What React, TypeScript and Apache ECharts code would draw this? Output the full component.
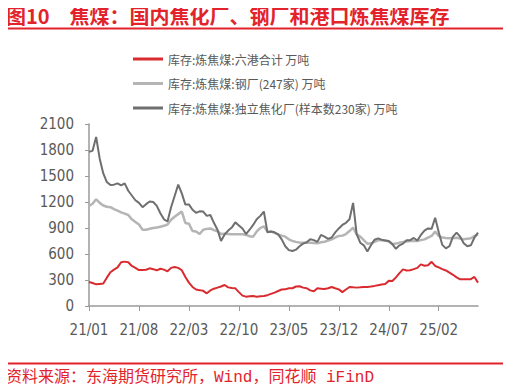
import React, { useEffect, useRef } from "react";
import * as echarts from "echarts";

// Half-month sampling points from 2021-01 to 2025-07 (110 points)
const startYear = 2021;
const pointCount = 110;
const dates: string[] = [];
for (let i = 0; i < pointCount; i++) {
  const mIdx = Math.floor(i / 2);
  const y = startYear + Math.floor(mIdx / 12);
  const m = (mIdx % 12) + 1;
  const d = i % 2 === 0 ? "01" : "16";
  dates.push(`${y}-${String(m).padStart(2, "0")}-${d}`);
}

const seriesNames = [
  "库存:炼焦煤:六港合计 万吨",
  "库存:炼焦煤:钢厂(247家) 万吨",
  "库存:炼焦煤:独立焦化厂(样本数230家) 万吨",
];

// 六港合计
const portStock = [
  277, 265, 250, 255, 260, 327, 390, 420, 445, 505,
  512, 505, 462, 440, 415, 415, 418, 435, 425, 412,
  430, 420, 400, 440, 450, 440, 412, 335, 270, 220,
  190, 183, 175, 146, 180, 200, 212, 225, 242, 215,
  208, 204, 160, 120, 108, 112, 115, 108, 112, 115,
  125, 140, 155, 173, 190, 192, 204, 205, 225, 228,
  212, 205, 180, 170, 204, 200, 196, 205, 219, 205,
  192, 160, 190, 219, 215, 212, 215, 219, 220, 225,
  232, 240, 248, 255, 290, 288, 330, 380, 423, 410,
  412, 425, 440, 480, 465, 470, 510, 462, 445, 425,
  410, 385, 360, 330, 308, 308, 308, 310, 335, 270,
];

// 钢厂(247家)
const steelStock = [
  1154, 1180, 1231, 1190, 1160, 1145, 1140, 1118, 1100, 1080,
  1065, 1050, 1000, 970, 940, 880, 880, 892, 900, 905,
  915, 925, 940, 995, 1030, 1060, 1090, 958, 950, 865,
  860, 830, 880, 890, 895, 875, 862, 830, 835, 832,
  828, 827, 827, 827, 820, 805, 800, 860, 900, 920,
  860, 858, 845, 825, 812, 800, 770, 750, 740, 731,
  731, 731, 731, 728, 723, 735, 742, 755, 769, 790,
  808, 812, 830, 865, 904, 827, 800, 760, 719, 723,
  740, 758, 758, 755, 745, 712, 720, 731, 740, 745,
  750, 750, 750, 760, 769, 790, 808, 858, 808, 790,
  785, 781, 785, 788, 780, 769, 775, 781, 808, 827,
];

// 独立焦化厂(样本数230家)
const cokingStock = [
  1780, 1790, 1950, 1700, 1530, 1430, 1395, 1400, 1415, 1392,
  1415, 1330, 1275, 1220, 1190, 1140, 1175, 1205, 1200, 1155,
  1070, 1000, 975, 1140, 1270, 1400, 1300, 1170, 1172, 1110,
  1075, 1092, 1090, 1040, 1050, 960, 880, 750, 825, 870,
  905, 965, 930, 895, 830, 880, 935, 1000, 1040, 1090,
  850, 860, 850, 827, 769, 690, 645, 635, 650, 690,
  720, 735, 770, 760, 740, 820, 800, 775, 790, 850,
  895, 935, 960, 1000, 1190, 830, 730, 700, 630, 700,
  765, 780, 765, 755, 750, 715, 660, 700, 720, 760,
  760, 785, 755, 820, 870, 895, 890, 1019, 850, 705,
  665, 690, 800, 846, 800, 725, 690, 700, 790, 846,
];

const colors = ["#d92b2f", "#b5b5b5", "#6f6f6f"];
const titleText = "图10\u3000焦煤：国内焦化厂、钢厂和港口炼焦煤库存";
const sourceText = "资料来源：东海期货研究所，Wind，同花顺 iFinD";

const labelStep = 14; // every 7 months

export default function App() {
  const ref = useRef<HTMLDivElement>(null);
  useEffect(() => {
    if (!ref.current) return;
    const chart = echarts.init(ref.current, null, { renderer: "svg" });
    const narrow = "'Liberation Sans Narrow', 'DejaVu Sans Condensed', 'Noto Sans', sans-serif";
    chart.setOption({
      animation: false,
      backgroundColor: "#ffffff",
      grid: { left: 89, right: 34, top: 124, bottom: 86 },
      legend: {
        orient: "vertical",
        left: 128,
        top: 48,
        icon: "rect",
        itemWidth: 30,
        itemHeight: 3,
        itemGap: 12.5,
        textStyle: { fontSize: 12, color: "#595959", fontFamily: "'Noto Sans CJK SC', sans-serif" },
        data: seriesNames,
      },
      xAxis: {
        type: "category",
        data: dates,
        boundaryGap: false,
        axisLine: { lineStyle: { color: "#9a9a9a", width: 1.5 } },
        axisTick: {
          show: true,
          length: 5,
          interval: (idx: number) => idx % labelStep === 0,
          lineStyle: { color: "#9a9a9a" },
        },
        axisLabel: {
          interval: (idx: number) => idx % labelStep === 0,
          margin: 16,
          fontSize: 15,
          color: "#595959",
          fontFamily: narrow,
          formatter: (v: string) => `${v.slice(2, 4)}/${v.slice(5, 7)}`,
        },
        splitLine: { show: false },
      },
      yAxis: {
        type: "value",
        min: 0,
        max: 2100,
        interval: 300,
        axisLine: { show: true, lineStyle: { color: "#9a9a9a", width: 1.5 } },
        axisTick: { show: true, length: 4, lineStyle: { color: "#9a9a9a" } },
        axisLabel: {
          margin: 15,
          fontSize: 15,
          color: "#595959",
          fontFamily: narrow,
          formatter: (v: number) => String(v),
        },
        splitLine: { show: false },
      },
      series: [
        { name: seriesNames[0], data: portStock },
        { name: seriesNames[1], data: steelStock },
        { name: seriesNames[2], data: cokingStock },
      ].map((s, i) => ({
        ...s,
        type: "line",
        symbol: "none",
        color: colors[i],
        lineStyle: { color: colors[i], width: i === 1 ? 2.5 : 2 },
      })),
      graphic: [
        {
          type: "text",
          left: 6,
          top: 5,
          style: {
            text: titleText,
            fill: "#e3232b",
            fontSize: 20,
            fontWeight: "bold",
            fontFamily: "'Noto Sans CJK SC', sans-serif",
          },
        },
        {
          type: "line",
          shape: { x1: 5, y1: 28.5, x2: 503, y2: 28.5 },
          style: { stroke: "#e3232b", lineWidth: 2 },
        },
        {
          type: "line",
          shape: { x1: 5, y1: 363.5, x2: 503, y2: 363.5 },
          style: { stroke: "#e3232b", lineWidth: 2 },
        },
        {
          type: "text",
          left: 6,
          top: 370,
          style: {
            text: sourceText,
            fill: "#e3232b",
            fontSize: 16,
            fontFamily: "'Liberation Mono', 'Noto Sans CJK SC', monospace",
          },
        },
      ],
    });
    return () => chart.dispose();
  }, []);
  return <div ref={ref} style={{ width: 512, height: 392, margin: -8 }} />;
}
